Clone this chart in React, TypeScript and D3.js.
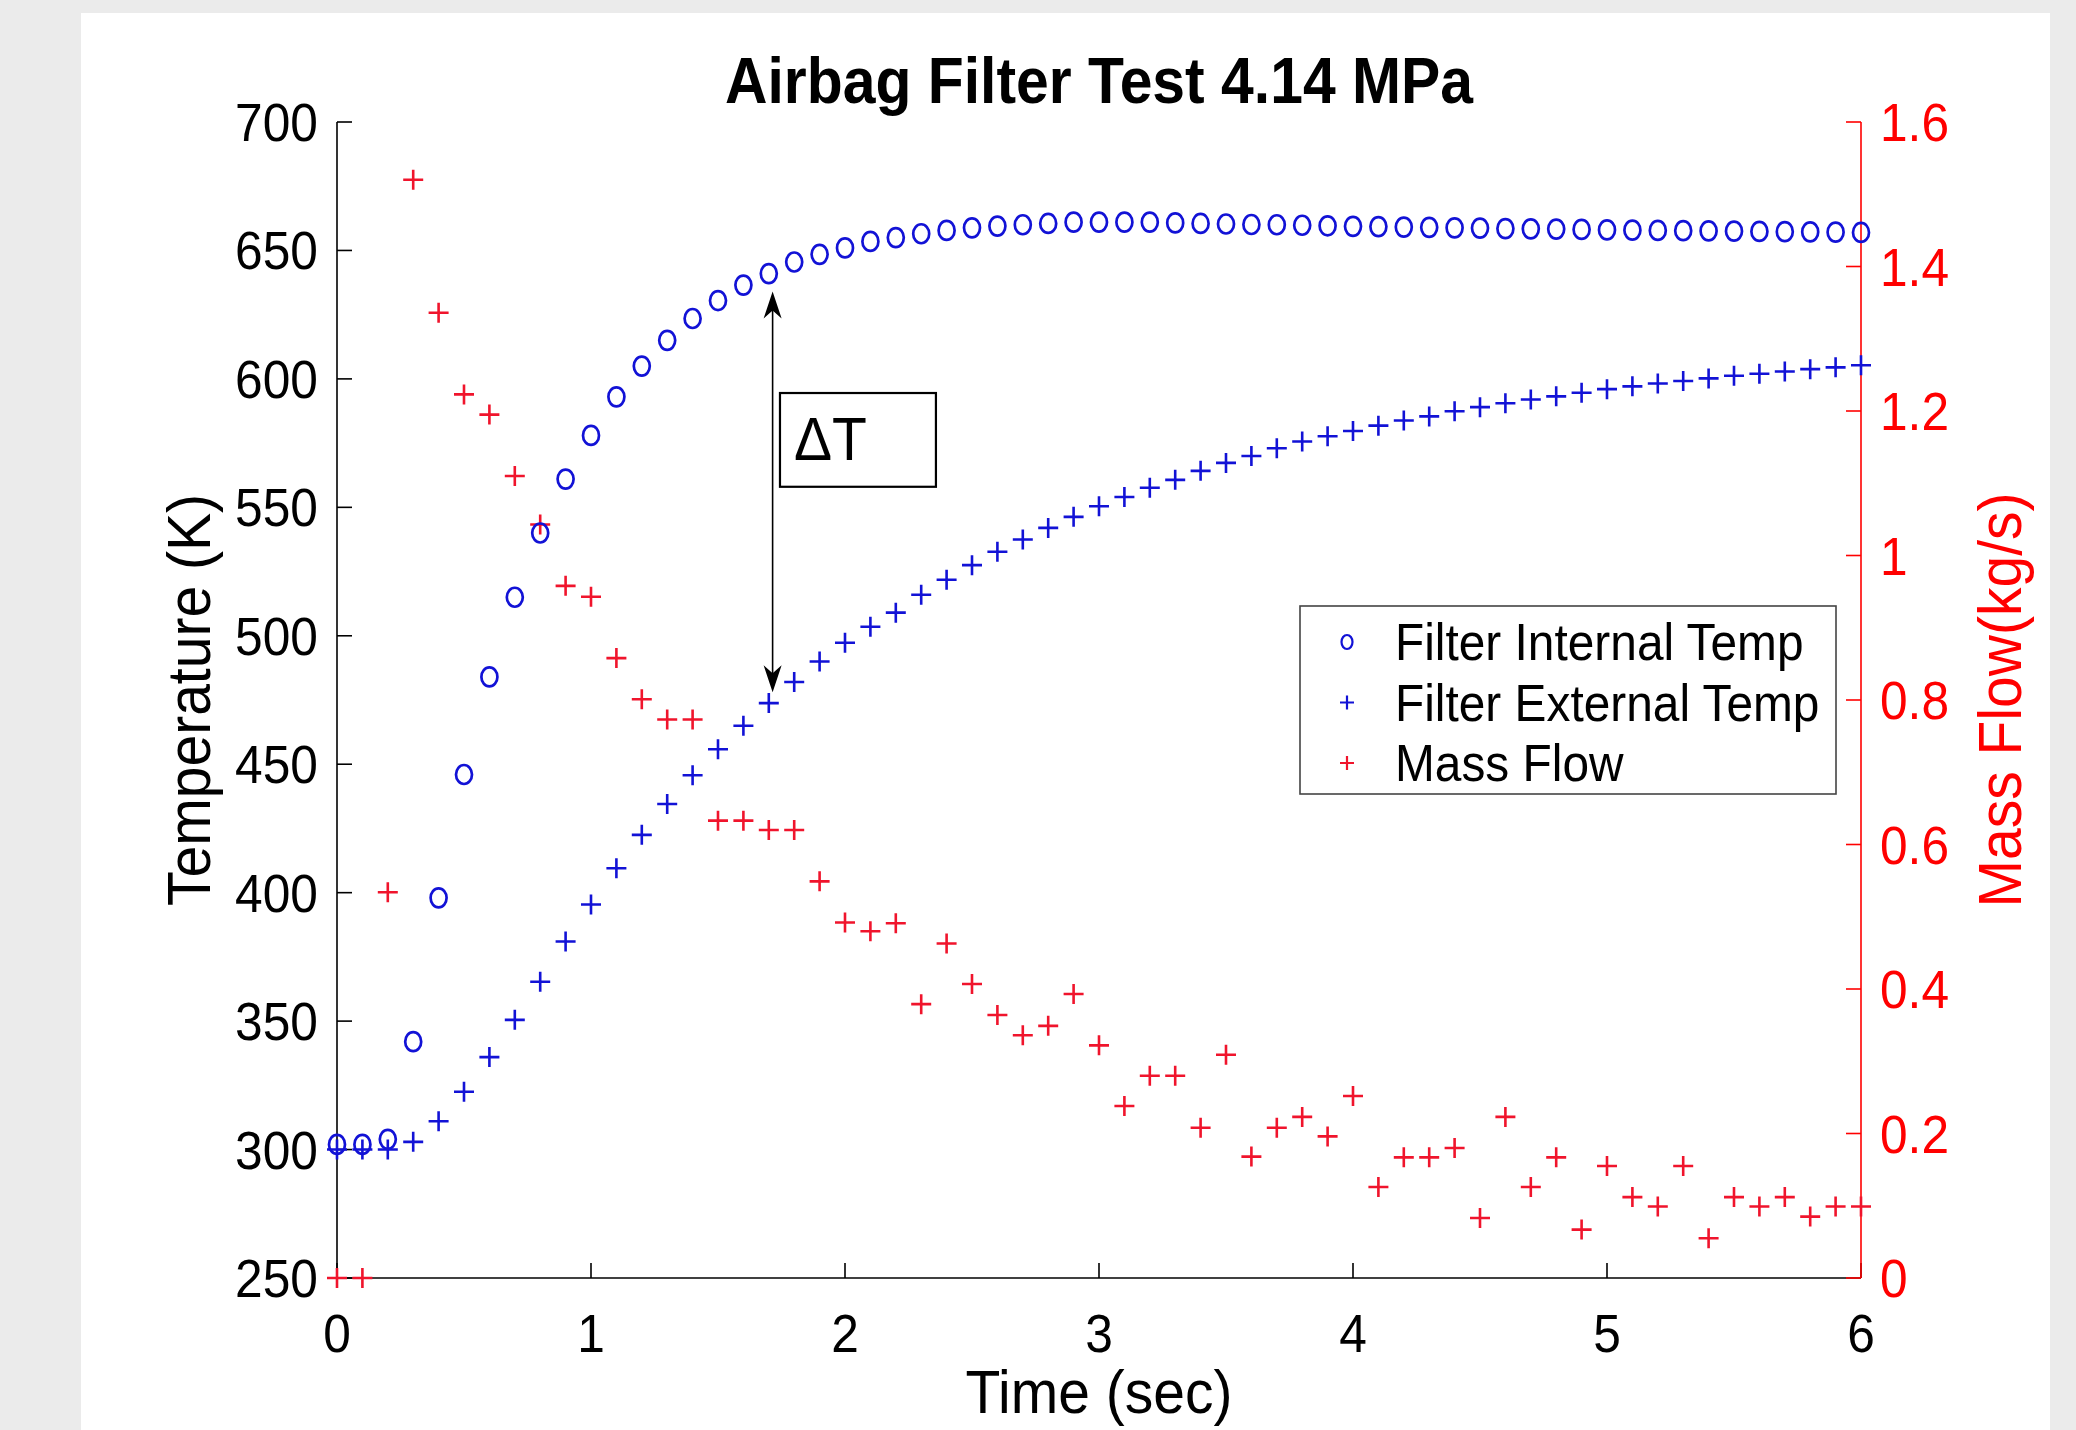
import * as d3 from 'd3';

const time = [
  0, 0.1, 0.2, 0.3, 0.4, 0.5, 0.6, 0.7, 0.8, 0.9, 1, 1.1, 1.2, 1.3, 1.4, 1.5,
  1.6, 1.7, 1.8, 1.9, 2, 2.1, 2.2, 2.3, 2.4, 2.5, 2.6, 2.7, 2.8, 2.9, 3, 3.1,
  3.2, 3.3, 3.4, 3.5, 3.6, 3.7, 3.8, 3.9, 4, 4.1, 4.2, 4.3, 4.4, 4.5, 4.6, 4.7,
  4.8, 4.9, 5, 5.1, 5.2, 5.3, 5.4, 5.5, 5.6, 5.7, 5.8, 5.9, 6,
];

// filter internal temperature (K), circles
const internalTemp = [
  302, 302, 304, 342, 398, 446, 484, 515, 540, 561, 578, 593, 605, 615, 623.5,
  630.5, 636.5, 641, 645.5, 648.5, 651, 653.5, 655, 656.5, 657.8, 658.8, 659.5,
  660, 660.5, 661, 661, 661, 661, 660.7, 660.5, 660.3, 660.1, 660, 659.8, 659.6,
  659.4, 659.3, 659.1, 659, 658.8, 658.7, 658.5, 658.4, 658.3, 658.2, 658,
  657.9, 657.8, 657.7, 657.6, 657.5, 657.4, 657.3, 657.2, 657.1, 657,
];

// filter external temperature (K), blue plus
const externalTemp = [
  300, 300, 300, 303, 311, 322.5, 336, 350.5, 365.3, 381, 395.4, 409.5, 422.5,
  434.5, 445.7, 455.8, 465, 473.8, 482, 490, 497.3, 503.5, 509, 516, 521.8,
  527.5, 532.7, 537.5, 542, 546.3, 550.4, 554, 557.6, 560.7, 564.2, 567.3, 570,
  573, 575.6, 577.7, 579.7, 581.8, 583.8, 585.4, 587.4, 589, 590.5, 592, 593.2,
  594.6, 596, 597.1, 598.2, 599.2, 600.2, 601.2, 602, 602.9, 603.8, 604.5, 605.3,
];

// mass flow (kg/s), red plus, right axis
const massFlow = [
  0, 0, 0.534, 1.52, 1.336, 1.223, 1.195, 1.11, 1.043, 0.958, 0.943, 0.858,
  0.801, 0.773, 0.773, 0.633, 0.633, 0.62, 0.62, 0.549, 0.492, 0.48, 0.491,
  0.379, 0.463, 0.407, 0.364, 0.336, 0.349, 0.393, 0.322, 0.238, 0.28, 0.28,
  0.208, 0.309, 0.168, 0.208, 0.223, 0.196, 0.252, 0.126, 0.167, 0.167, 0.18,
  0.083, 0.223, 0.126, 0.167, 0.067, 0.155, 0.112, 0.099, 0.155, 0.055, 0.112,
  0.099, 0.112, 0.085, 0.099, 0.099,
];

const timeTicks = [0, 1, 2, 3, 4, 5, 6];
const tempTicks = [250, 300, 350, 400, 450, 500, 550, 600, 650, 700];
const flowTicks = [0, 0.2, 0.4, 0.6, 0.8, 1, 1.2, 1.4, 1.6];

const legendItems = ['Filter Internal Temp', 'Filter External Temp', 'Mass Flow'];

// delta-T annotation, in data units
const arrowTime = 1.715;
const arrowTop = 634;
const arrowBottom = 478;
const boxTime = [1.744, 2.358];
const boxTemp = [594.5, 558];

const W = 2076;
const H = 1430;
const left = 337;
const right = 1861;
const top = 122;
const bottom = 1278;

const FONT = '"Liberation Sans", Arial, Helvetica, sans-serif';
const BLUE = '#1212d6';
const RED = '#f0142c';
const AXRED = '#ff0000';
const SQ = 0.92; // the original font runs a bit narrower than Liberation Sans

const x = d3.scaleLinear().domain([0, 6]).range([left, right]);
const yT = d3.scaleLinear().domain([250, 700]).range([bottom, top]);
const yM = d3.scaleLinear().domain([0, 1.6]).range([bottom, top]);

const plus = (s: number) => `M${-s},0H${s}M0,${-s}V${s}`;
const fmt = (v: number) => `${+v.toFixed(1)}`;

function Label({ x, y, rot = 0, size, anchor = 'start', fill = '#000', weight = 'normal', children }: any) {
  return (
    <text
      transform={`translate(${x},${y}) rotate(${rot}) scale(${SQ},1)`}
      textAnchor={anchor}
      fontSize={size}
      fontWeight={weight}
      fill={fill}
    >
      {children}
    </text>
  );
}

function App() {
  const tick = 15;
  const ax = x(arrowTime);
  const aTop = yT(arrowTop);
  const aBot = yT(arrowBottom);
  const bx0 = x(boxTime[0]);
  const bx1 = x(boxTime[1]);
  const by0 = yT(boxTemp[0]);
  const by1 = yT(boxTemp[1]);

  return (
    <svg
      width={W}
      height={H}
      style={{ position: 'absolute', left: 0, top: 0, display: 'block' }}
      fontFamily={FONT}
    >
      <rect width={W} height={H} fill="#ebebeb" />
      <rect x={81} y={13} width={2050 - 81} height={H - 13} fill="#ffffff" />

      <Label x={(left + right) / 2} y={103} size={64} anchor="middle" weight="bold">
        Airbag Filter Test 4.14 MPa
      </Label>

      {/* left axis */}
      <line x1={left} x2={left} y1={top} y2={bottom} stroke="#000" strokeWidth={1.6} />
      {tempTicks.map(t => (
        <g key={t}>
          <line x1={left} x2={left + tick} y1={yT(t)} y2={yT(t)} stroke="#000" strokeWidth={1.6} />
          <Label x={318} y={yT(t) + 19} size={54} anchor="end">
            {t}
          </Label>
        </g>
      ))}
      <Label x={210} y={(top + bottom) / 2} rot={-90} size={62} anchor="middle">
        Temperature (K)
      </Label>

      {/* bottom axis */}
      <line x1={left} x2={right} y1={bottom} y2={bottom} stroke="#000" strokeWidth={1.6} />
      {timeTicks.map(t => (
        <g key={t}>
          <line x1={x(t)} x2={x(t)} y1={bottom} y2={bottom - tick} stroke="#000" strokeWidth={1.6} />
          <Label x={x(t)} y={1352} size={54} anchor="middle">
            {t}
          </Label>
        </g>
      ))}
      <Label x={(left + right) / 2} y={1413} size={62} anchor="middle">
        Time (sec)
      </Label>

      {/* right axis */}
      <line x1={right} x2={right} y1={top} y2={bottom} stroke={AXRED} strokeWidth={1.6} />
      {flowTicks.map(m => (
        <g key={m}>
          <line x1={right} x2={right - tick} y1={yM(m)} y2={yM(m)} stroke={AXRED} strokeWidth={1.6} />
          <Label x={1880} y={yM(m) + 19} size={54} fill={AXRED}>
            {fmt(m)}
          </Label>
        </g>
      ))}
      <Label x={2021} y={(top + bottom) / 2} rot={-90} size={62} anchor="middle" fill={AXRED}>
        Mass Flow(kg/s)
      </Label>

      {/* series */}
      <g fill="none" stroke={RED} strokeWidth={2.6}>
        {massFlow.map((m, i) => (
          <path key={i} d={plus(10)} transform={`translate(${x(time[i])},${yM(m)})`} />
        ))}
      </g>
      <g fill="none" stroke={BLUE} strokeWidth={2.6}>
        {externalTemp.map((t, i) => (
          <path key={i} d={plus(10)} transform={`translate(${x(time[i])},${yT(t)})`} />
        ))}
      </g>
      <g fill="none" stroke={BLUE} strokeWidth={2.7}>
        {internalTemp.map((t, i) => (
          <ellipse key={i} cx={x(time[i])} cy={yT(t)} rx={8} ry={9.5} />
        ))}
      </g>

      {/* delta T annotation */}
      <line x1={ax} x2={ax} y1={aTop + 10} y2={aBot - 10} stroke="#000" strokeWidth={1.6} />
      <path d={`M${ax},${aTop}L${ax - 9},${aTop + 27}L${ax},${aTop + 19}L${ax + 9},${aTop + 27}Z`} fill="#000" />
      <path d={`M${ax},${aBot}L${ax - 9},${aBot - 27}L${ax},${aBot - 19}L${ax + 9},${aBot - 27}Z`} fill="#000" />
      <rect x={bx0} y={by0} width={bx1 - bx0} height={by1 - by0} fill="#fff" stroke="#000" strokeWidth={2.2} />
      <Label x={bx0 + 14} y={by0 + 67} size={62}>
        ΔT
      </Label>

      {/* legend */}
      <rect x={1300} y={606} width={536} height={188} fill="#fff" stroke="#444" strokeWidth={1.6} />
      {legendItems.map((name, i) => {
        const cy = 642 + i * 60.5;
        return (
          <g key={name}>
            {i === 0 ? (
              <ellipse cx={1347} cy={cy} rx={5.5} ry={7} fill="none" stroke={BLUE} strokeWidth={2.2} />
            ) : (
              <path
                d={plus(7)}
                transform={`translate(1347,${cy})`}
                fill="none"
                stroke={i === 1 ? BLUE : RED}
                strokeWidth={2.2}
              />
            )}
            <Label x={1395} y={cy + 18} size={52}>
              {name}
            </Label>
          </g>
        );
      })}
    </svg>
  );
}

export default App;
